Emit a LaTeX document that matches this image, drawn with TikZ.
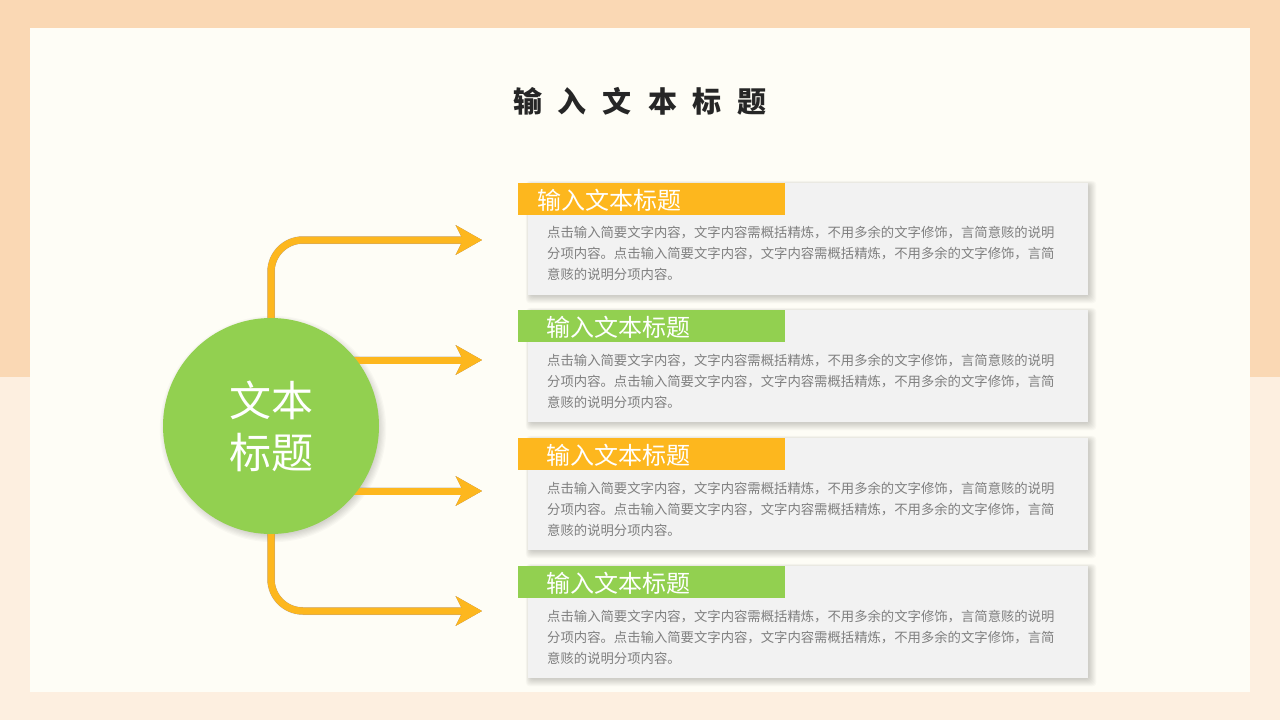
\documentclass[tikz,border=0pt]{standalone}
\usepackage{fontspec}
\setmainfont{Noto Sans CJK SC}
\usetikzlibrary{arrows.meta}
\definecolor{peach}{HTML}{FAD8B4}
\definecolor{peachl}{HTML}{FDEFE0}
\definecolor{panel}{HTML}{FEFDF6}
\definecolor{orng}{HTML}{FDB71E}
\definecolor{grn}{HTML}{92D050}
\definecolor{cardc}{HTML}{F2F2F2}
\definecolor{bodyc}{HTML}{7F7F7F}
\definecolor{titlec}{HTML}{262626}
\definecolor{edgec}{HTML}{7A4A3A}
\pgfdeclarelayer{back}
\pgfdeclarelayer{mid}
\pgfsetlayers{back,mid,main}
\newcommand{\softshadow}[1]{%
  \foreach \k in {0,...,7}{%
    \fill[black, opacity=.022, rounded corners=4pt]
      ([xshift={2pt-\k*0.6pt}, yshift={-2pt+\k*0.6pt}]#1.north west) rectangle
      ([xshift={1pt+\k*1.0pt}, yshift={-1pt-\k*1.0pt}]#1.south east);
  }}
\begin{document}
\begin{tikzpicture}[x=1pt,y=-1pt,
  cardbox/.style={fill=cardc, minimum width=560pt, minimum height=112pt, inner sep=0pt, anchor=north west},
  hdrbox/.style={minimum width=267pt, minimum height=32pt, inner sep=0pt, anchor=north west},
  hdrtext/.style={text=white, font=\fontsize{24}{28}\selectfont, inner sep=0pt, anchor=west},
  bodytext/.style={text=bodyc, font=\fontsize{13.35}{21}\selectfont, align=left, inner sep=0pt, anchor=north west},
  arr/.style={draw=orng, line width=7pt, rounded corners=32pt, -{Stealth[length=26pt, width=29pt, inset=7pt]}},
  arrsh/.style={draw=black, opacity=.10, line width=8pt, rounded corners=32pt, -{Stealth[length=26pt, width=29pt, inset=7pt]}},
  arredge/.style={draw=edgec, opacity=.7, line width=7pt, rounded corners=32pt, -{Stealth[length=26pt, width=29pt, inset=7pt]}}
]
\useasboundingbox (0,0) rectangle (1280,720);
\begin{pgfonlayer}{back}
\fill[peach] (0,0) rectangle (1280,377);
\fill[peachl] (0,377) rectangle (1280,720);
\fill[panel] (30,28) rectangle (1250,692);
\end{pgfonlayer}

% title
\node[text=titlec, font=\bfseries\fontsize{29}{34}\selectfont, inner sep=0pt] (ttl) at (640,101)
  {输\hspace{16pt}入\hspace{16pt}文\hspace{16pt}本\hspace{16pt}标\hspace{16pt}题};

% centre circle
\node[circle, fill=grn, minimum size=216pt, inner sep=0pt,
  text=white, font=\fontsize{42}{52}\selectfont, align=center] (c) at (271,426) {文本\\标题};

% arrow end points
\coordinate (e1) at (482,240);
\coordinate (e2) at (482,360);
\coordinate (e3) at (482,491);
\coordinate (e4) at (482,611);

\begin{pgfonlayer}{mid}
\foreach \k in {0,...,6}{
  \fill[black, opacity=.025] ([xshift=2pt, yshift=-3pt]c.center) circle ({106pt+\k*1.2pt});
}
\begin{scope}[shift={(2,4)}]
\draw[arrsh] (c.center) |- (e1);
\draw[arrsh] (c.center |- e2) -- (e2);
\draw[arrsh] (c.center |- e3) -- (e3);
\draw[arrsh] (c.center) |- (e4);
\end{scope}
\begin{scope}[shift={(-1.2,1.2)}]
\draw[arredge] (c.center) |- (e1);
\draw[arredge] (c.center |- e2) -- (e2);
\draw[arredge] (c.center |- e3) -- (e3);
\draw[arredge] (c.center) |- (e4);
\end{scope}
\draw[arr] (c.center) |- (e1);
\draw[arr] (c.center |- e2) -- (e2);
\draw[arr] (c.center |- e3) -- (e3);
\draw[arr] (c.center) |- (e4);
\end{pgfonlayer}

% cards
\node[cardbox] (b1) at (528,183) {};
\node[hdrbox, fill=orng] (h1) at (518,183) {};
\node[hdrtext] (t1) at (537,200) {输入文本标题};
\node[bodytext] (d1) at (547,226) {点击输入简要文字内容，文字内容需概括精炼，不用多余的文字修饰，言简意赅的说明\\分项内容。点击输入简要文字内容，文字内容需概括精炼，不用多余的文字修饰，言简\\意赅的说明分项内容。};

\node[cardbox] (b2) at (528,310) {};
\node[hdrbox, fill=grn] (h2) at (518,310) {};
\node[hdrtext] (t2) at (546,327) {输入文本标题};
\node[bodytext] (d2) at (547,354) {点击输入简要文字内容，文字内容需概括精炼，不用多余的文字修饰，言简意赅的说明\\分项内容。点击输入简要文字内容，文字内容需概括精炼，不用多余的文字修饰，言简\\意赅的说明分项内容。};

\node[cardbox] (b3) at (528,438) {};
\node[hdrbox, fill=orng] (h3) at (518,438) {};
\node[hdrtext] (t3) at (546,455) {输入文本标题};
\node[bodytext] (d3) at (547,482) {点击输入简要文字内容，文字内容需概括精炼，不用多余的文字修饰，言简意赅的说明\\分项内容。点击输入简要文字内容，文字内容需概括精炼，不用多余的文字修饰，言简\\意赅的说明分项内容。};

\node[cardbox] (b4) at (528,566) {};
\node[hdrbox, fill=grn] (h4) at (518,566) {};
\node[hdrtext] (t4) at (546,583) {输入文本标题};
\node[bodytext] (d4) at (547,610) {点击输入简要文字内容，文字内容需概括精炼，不用多余的文字修饰，言简意赅的说明\\分项内容。点击输入简要文字内容，文字内容需概括精炼，不用多余的文字修饰，言简\\意赅的说明分项内容。};

\begin{pgfonlayer}{mid}
\softshadow{b1}
\softshadow{b2}
\softshadow{b3}
\softshadow{b4}
\end{pgfonlayer}
\end{tikzpicture}
\end{document}
